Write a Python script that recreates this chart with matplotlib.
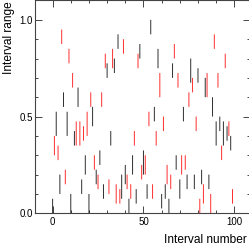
import numpy as np
import matplotlib
matplotlib.use("Agg")
import matplotlib.pyplot as plt
from matplotlib.ticker import MultipleLocator, FormatStrFormatter

plt.rcParams["font.family"] = ["Liberation Sans", "DejaVu Sans"]

# ── data: one interval per index, even = black, odd = red ───────────────────
interval_lo = [
    0.0, 0.3, 0.4, 0.275, 0.1, 0.875, 0.55, 0.15, 0.4, 0.775,
    0.0, 0.65, 0.35, 0.35, 0.55, 0.35, 0.1, 0.375, 0.2, 0.4,
    0.0, 0.55, 0.45, 0.225, 0.15, 0.125, 0.25, 0.55, 0.075, 0.75,
    0.7, 0.1, 0.35, 0.75, 0.725, 0.05, 0.85, 0.05, 0.075, 0.825,
    0.15, 0.125, 0.0, 0.075, 0.2, 0.35, 0.05, 0.75, 0.8, 0.175,
    0.2, 0.2, 0.075, 0.45, 0.925, 0.075, 0.475, 0.35, 0.75, 0.6,
    0.025, 0.425, 0.075, 0.15, 0.0, 0.125, 0.7, 0.8, 0.225, 0.65,
    0.075, 0.2, 0.475, 0.225, 0.125, 0.55, 0.675, 0.625, 0.125, 0.425,
    0.675, 0.0, 0.15, 0.05, 0.6, 0.6, 0.125, 0.0, 0.5, 0.85,
    0.35, 0.65, 0.425, 0.275, 0.35, 0.75, 0.375, 0.4, 0.325, 0.05,
]
interval_hi = [
    0.075, 0.4, 0.525, 0.35, 0.2, 0.95, 0.625, 0.225, 0.525, 0.85,
    0.1, 0.725, 0.425, 0.475, 0.65, 0.475, 0.175, 0.45, 0.3, 0.525,
    0.1, 0.625, 0.55, 0.3, 0.225, 0.2, 0.325, 0.625, 0.15, 0.825,
    0.775, 0.175, 0.425, 0.85, 0.8, 0.15, 0.925, 0.125, 0.2, 0.9,
    0.25, 0.2, 0.075, 0.15, 0.3, 0.425, 0.125, 0.825, 0.875, 0.25,
    0.325, 0.3, 0.15, 0.525, 1.0, 0.15, 0.55, 0.425, 0.85, 0.725,
    0.1, 0.5, 0.15, 0.25, 0.075, 0.2, 0.775, 0.875, 0.3, 0.725,
    0.175, 0.3, 0.55, 0.3, 0.2, 0.625, 0.8, 0.7, 0.2, 0.5,
    0.75, 0.075, 0.225, 0.15, 0.7, 0.725, 0.2, 0.1, 0.6, 0.925,
    0.475, 0.725, 0.5, 0.35, 0.475, 0.825, 0.45, 0.475, 0.4, 0.125,
]
interval_idx = np.arange(len(interval_lo))
colours = ["black" if i % 2 == 0 else "red" for i in interval_idx]

# ── figure ───────────────────────────────────────────────────────────────────
fig = plt.figure(figsize=(2.49, 2.46), dpi=100)
ax = fig.add_axes([0.139, 0.133, 0.867, 0.865])

lc = ax.vlines(interval_idx, interval_lo, interval_hi, colors=colours,
               linewidth=0.72, alpha=0.8)
lc.set_snap(False)

ax.set_xlim(-9.9, 108.9)
ax.set_ylim(0.0, 1.1)

ax.xaxis.set_major_locator(MultipleLocator(50))
ax.xaxis.set_minor_locator(MultipleLocator(10))
ax.yaxis.set_major_locator(MultipleLocator(0.5))
ax.yaxis.set_minor_locator(MultipleLocator(0.1))
ax.yaxis.set_major_formatter(FormatStrFormatter("%.1f"))

ax.tick_params(which="both", direction="in", top=True, right=True,
               width=0.7, color="#444444", labelsize=7)
ax.tick_params(which="major", length=5)
ax.tick_params(which="minor", length=2.5)
ax.tick_params(axis="x", pad=3)
ax.tick_params(axis="y", pad=1.5)
for sp in ax.spines.values():
    sp.set_linewidth(0.8)
    sp.set_color("#444444")

fig.text(247 / 249, 1 - 240 / 246, "Interval number", ha="right", va="center",
         fontsize=8.6)
fig.text(9 / 249, 1 - 1 / 246, "Interval range", ha="center", va="top",
         rotation=90, fontsize=8.6)

fig.savefig("out.png", dpi=100)
